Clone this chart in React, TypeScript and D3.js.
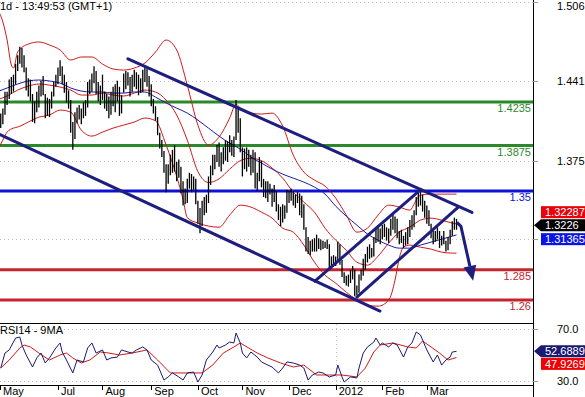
import React, { useEffect, useRef } from "react";
import * as d3 from "d3";

// daily bars, trading days 23 May 2011 .. 21 Mar 2012 (index 0..217)
const highs = [
  1.411, 1.413, 1.414, 1.418, 1.432, 1.432, 1.442, 1.444, 1.446, 1.455,
  1.462, 1.469, 1.468, 1.462, 1.452, 1.443, 1.442, 1.43, 1.424, 1.432,
  1.437, 1.441, 1.445, 1.43, 1.427, 1.426, 1.432, 1.44, 1.446, 1.452,
  1.458, 1.453, 1.446, 1.44, 1.433, 1.425, 1.407, 1.415, 1.419, 1.421,
  1.418, 1.423, 1.425, 1.44, 1.442, 1.447, 1.453, 1.449, 1.44, 1.437,
  1.446, 1.432, 1.43, 1.428, 1.432, 1.436, 1.438, 1.441, 1.436, 1.429,
  1.447, 1.449, 1.448, 1.444, 1.446, 1.45, 1.448, 1.446, 1.443, 1.45,
  1.454, 1.451, 1.445, 1.438, 1.426, 1.42, 1.411, 1.398, 1.392, 1.383,
  1.372, 1.372, 1.38, 1.384, 1.388, 1.374, 1.376, 1.37, 1.358, 1.352,
  1.36, 1.365, 1.364, 1.362, 1.36, 1.342, 1.336, 1.342, 1.345, 1.347,
  1.362, 1.371, 1.38, 1.38, 1.388, 1.39, 1.382, 1.386, 1.392, 1.391,
  1.396, 1.392, 1.395, 1.425, 1.418, 1.41, 1.386, 1.385, 1.386, 1.384,
  1.38, 1.384, 1.382, 1.365, 1.378, 1.375, 1.36, 1.358, 1.358, 1.356,
  1.352, 1.355, 1.35, 1.339, 1.337, 1.339, 1.338, 1.351, 1.35, 1.352,
  1.35, 1.347, 1.349, 1.348, 1.346, 1.339, 1.32, 1.312, 1.309, 1.31,
  1.311, 1.314, 1.311, 1.31, 1.309, 1.308, 1.31, 1.306, 1.296, 1.297,
  1.296, 1.308, 1.306, 1.293, 1.283, 1.28, 1.281, 1.285, 1.288, 1.285,
  1.272, 1.281, 1.285, 1.294, 1.298, 1.304, 1.306, 1.303, 1.312, 1.32,
  1.322, 1.319, 1.322, 1.323, 1.32, 1.319, 1.327, 1.331, 1.329, 1.327,
  1.317, 1.318, 1.313, 1.316, 1.32, 1.326, 1.33, 1.334, 1.345, 1.35,
  1.349, 1.347, 1.342, 1.338, 1.334, 1.323, 1.318, 1.317, 1.32, 1.317,
  1.313, 1.317, 1.309, 1.312, 1.318, 1.325, 1.328, 1.327,
];
const lows = [
  1.397, 1.4, 1.402, 1.405, 1.413, 1.421, 1.426, 1.43, 1.432, 1.438,
  1.449, 1.455, 1.452, 1.448, 1.433, 1.428, 1.424, 1.407, 1.406, 1.415,
  1.419, 1.428, 1.429, 1.41, 1.412, 1.411, 1.418, 1.428, 1.436, 1.438,
  1.445, 1.438, 1.431, 1.423, 1.418, 1.398, 1.384, 1.393, 1.406, 1.409,
  1.405, 1.41, 1.412, 1.419, 1.43, 1.432, 1.439, 1.43, 1.424, 1.421,
  1.425, 1.418, 1.416, 1.41, 1.413, 1.42, 1.415, 1.424, 1.412, 1.414,
  1.431, 1.434, 1.437, 1.428, 1.432, 1.436, 1.434, 1.429, 1.431, 1.432,
  1.44, 1.436, 1.428, 1.42, 1.414, 1.408, 1.396, 1.385, 1.378, 1.365,
  1.349, 1.356, 1.363, 1.365, 1.366, 1.358, 1.361, 1.348, 1.338, 1.339,
  1.34, 1.352, 1.349, 1.351, 1.339, 1.323, 1.315, 1.321, 1.33, 1.332,
  1.34, 1.355, 1.363, 1.368, 1.374, 1.37, 1.366, 1.372, 1.375, 1.374,
  1.382, 1.379, 1.378, 1.392, 1.398, 1.382, 1.362, 1.368, 1.366, 1.37,
  1.363, 1.365, 1.352, 1.35, 1.358, 1.353, 1.345, 1.344, 1.341, 1.347,
  1.337, 1.341, 1.333, 1.326, 1.321, 1.324, 1.327, 1.332, 1.34, 1.342,
  1.338, 1.336, 1.34, 1.33, 1.328, 1.318, 1.3, 1.298, 1.297, 1.3,
  1.3, 1.3, 1.302, 1.301, 1.302, 1.303, 1.302, 1.286, 1.286, 1.289,
  1.288, 1.292, 1.289, 1.279, 1.274, 1.272, 1.271, 1.274, 1.277, 1.263,
  1.264, 1.266, 1.276, 1.28, 1.285, 1.291, 1.294, 1.295, 1.296, 1.307,
  1.308, 1.306, 1.31, 1.312, 1.309, 1.307, 1.313, 1.318, 1.315, 1.311,
  1.306, 1.307, 1.303, 1.305, 1.306, 1.312, 1.318, 1.32, 1.33, 1.337,
  1.338, 1.333, 1.328, 1.323, 1.321, 1.311, 1.306, 1.308, 1.31, 1.303,
  1.305, 1.306, 1.3, 1.301, 1.306, 1.313, 1.318, 1.318,
];
const lastPrice = 1.3226;

// bollinger bands [bar index, price]
const bbUpper = [
  [0, 1.501], [3, 1.4895], [5, 1.4746], [7, 1.454], [8, 1.4515], [10, 1.4647],
  [15, 1.4713], [20, 1.473], [25, 1.4705], [30, 1.4664], [35, 1.4581], [40, 1.4606],
  [45, 1.4606], [50, 1.4548], [55, 1.4507], [60, 1.4498], [65, 1.4515], [70, 1.4556],
  [75, 1.4647], [80, 1.4746], [85, 1.4664], [90, 1.4374], [95, 1.4044], [100, 1.3879],
  [105, 1.3945], [110, 1.4102], [113, 1.4217], [115, 1.4184], [120, 1.4143], [125, 1.4135],
  [130, 1.4143], [135, 1.4036], [140, 1.3796], [145, 1.3656], [150, 1.359], [155, 1.354],
  [160, 1.3441], [165, 1.3301], [170, 1.316], [175, 1.3193], [180, 1.3301], [185, 1.3383],
  [190, 1.3367], [195, 1.3342], [198, 1.3425], [200, 1.3466], [205, 1.3474], [210, 1.3474],
  [215, 1.3474], [217, 1.3474],
];
const bbMid = [
  [0, 1.4251], [5, 1.4284], [10, 1.4333], [15, 1.4366], [20, 1.4383], [25, 1.4374],
  [30, 1.4358], [35, 1.4333], [40, 1.4292], [45, 1.4292], [50, 1.4308], [55, 1.4292],
  [60, 1.4284], [65, 1.4308], [70, 1.4333], [75, 1.4317], [80, 1.4251], [85, 1.4127],
  [90, 1.392], [95, 1.366], [100, 1.357], [105, 1.36], [110, 1.368], [115, 1.375],
  [120, 1.377], [125, 1.375], [130, 1.369], [135, 1.3606], [140, 1.3491], [145, 1.3408],
  [150, 1.3325], [155, 1.3193], [160, 1.3094], [165, 1.3011], [170, 1.2912], [175, 1.2888],
  [180, 1.2962], [185, 1.3069], [190, 1.316], [195, 1.3202], [200, 1.3259], [205, 1.3276],
  [210, 1.3259], [215, 1.3235], [217, 1.32287],
];
const bbLower = [
  [0, 1.3821], [3, 1.392], [5, 1.3986], [8, 1.4019], [10, 1.4028], [15, 1.4069],
  [20, 1.411], [25, 1.4127], [30, 1.4168], [35, 1.4151], [40, 1.4003], [45, 1.3953],
  [50, 1.3986], [55, 1.4019], [60, 1.4044], [65, 1.4069], [70, 1.4102], [75, 1.408],
  [80, 1.388], [85, 1.362], [88, 1.343], [90, 1.328], [95, 1.3235], [100, 1.321],
  [105, 1.3201], [110, 1.3301], [115, 1.3383], [120, 1.3367], [125, 1.3325], [130, 1.3276],
  [135, 1.3193], [140, 1.316], [145, 1.3053], [150, 1.2912], [155, 1.2805], [160, 1.2739],
  [165, 1.2665], [170, 1.2599], [175, 1.2557], [180, 1.2549], [185, 1.2599], [188, 1.2764],
  [190, 1.2945], [192, 1.3036], [195, 1.3053], [200, 1.3036], [205, 1.302], [210, 1.2995],
  [215, 1.2987], [217, 1.2987],
];
// slow moving average (blue)
const maSlow = [
  [0, 1.4317], [5, 1.435], [10, 1.4383], [15, 1.4408], [20, 1.4416], [25, 1.4408],
  [30, 1.4391], [35, 1.435], [40, 1.4325], [45, 1.4317], [50, 1.4317], [55, 1.4308],
  [60, 1.4308], [65, 1.4317], [70, 1.4317], [75, 1.4275], [80, 1.4226], [85, 1.4184],
  [90, 1.4143], [95, 1.4085], [100, 1.4019], [105, 1.3953], [110, 1.3895], [115, 1.3846],
  [120, 1.378], [125, 1.373], [130, 1.3681], [135, 1.3639], [140, 1.3606], [145, 1.3573],
  [150, 1.3532], [155, 1.3474], [160, 1.3375], [165, 1.3292], [170, 1.3218], [175, 1.3144],
  [180, 1.3094], [185, 1.3053], [190, 1.3028], [195, 1.3028], [200, 1.3053], [205, 1.3078],
  [210, 1.3102], [215, 1.3127], [217, 1.31365],
];

// RSI(14) and its 9MA [bar index, value]
const rsi = [
  [2, 39.8], [4, 51.4], [6, 53.8], [9, 63.0], [11, 63.8], [12, 57.6], [14, 49.9], [17, 40.6],
  [19, 47.6], [21, 51.4], [23, 43.7], [25, 47.6], [28, 55.3], [30, 59.2], [31, 52.2], [33, 46.0],
  [36, 36.0], [38, 46.0], [41, 44.5], [43, 55.3], [45, 59.2], [47, 51.4], [50, 53.8], [52, 46.0],
  [54, 47.6], [57, 48.3], [59, 53.8], [62, 52.2], [64, 51.4], [66, 53.8], [69, 56.1], [71, 53.8],
  [73, 46.0], [76, 42.1], [77, 38.3], [79, 30.5], [81, 32.9], [83, 36.0], [86, 32.9], [88, 30.5],
  [90, 36.0], [93, 36.7], [95, 29.0], [97, 34.4], [99, 46.0], [102, 52.2], [104, 57.6], [105, 55.3],
  [108, 57.6], [110, 59.9], [112, 59.2], [113, 66.9], [115, 59.2], [116, 51.4], [118, 47.6], [120, 52.2],
  [123, 48.3], [125, 44.5], [128, 42.1], [130, 40.6], [133, 36.0], [135, 39.8], [137, 44.5], [140, 43.7],
  [143, 42.1], [145, 39.8], [147, 30.5], [149, 34.4], [152, 36.7], [154, 36.0], [157, 32.9], [160, 34.4],
  [161, 42.1], [163, 32.9], [164, 29.0], [167, 32.9], [170, 32.1], [171, 39.8], [173, 51.4], [175, 56.1],
  [178, 59.9], [179, 63.0], [181, 57.6], [182, 59.2], [185, 56.1], [187, 59.2], [189, 57.6], [192, 48.3],
  [194, 56.1], [196, 59.2], [198, 67.7], [200, 65.4], [201, 61.5], [203, 53.8], [206, 44.5], [208, 49.9],
  [210, 42.1], [212, 46.0], [214, 48.3], [215, 52.2], [217, 52.6889],
];
const rsiMa = [
  [2, 39.8], [6, 46.0], [11, 55.3], [13, 57.6], [16, 56.1], [20, 51.4], [25, 46.0], [30, 49.9],
  [33, 51.4], [36, 47.6], [40, 43.7], [44, 46.0], [49, 52.2], [53, 51.4], [58, 49.9], [64, 51.4],
  [71, 53.8], [76, 46.0], [82, 36.0], [87, 36.0], [91, 36.0], [97, 36.0], [102, 42.1], [107, 51.4],
  [112, 56.1], [115, 59.2], [119, 55.3], [123, 51.4], [128, 47.6], [134, 43.7], [140, 40.6], [145, 42.1],
  [151, 34.4], [157, 34.4], [163, 34.4], [170, 32.9], [174, 39.8], [178, 52.2], [181, 57.6], [187, 59.2],
  [194, 56.1], [198, 55.3], [201, 60.7], [205, 56.1], [209, 51.4], [213, 46.0], [217, 47.9269],
];

// drawn trend lines [bar index, price]
const channels = [
  [[62, 1.4591], [224.3, 1.3323]],
  [[1.65, 1.3965], [180.9, 1.2509]],
  [[150.2, 1.2755], [200.2, 1.3513]],
  [[170, 1.2624], [217.7, 1.3365]],
];
const arrowPath = [[217.2, 1.3241], [219.1, 1.3208], [223.3, 1.2879]];

const levels = [1.4235, 1.3875, 1.35, 1.285, 1.26];
const levelLabels = ["1.4235", "1.3875", "1.35", "1.285", "1.26"];
const levelColors = ["#2a8a2a", "#2a8a2a", "#0c10d8", "#c4242c", "#c4242c"];

const priceTicks = [1.506, 1.441, 1.375, 1.31];
const priceTickLabels = ["1.506", "1.441", "1.375", ""];
const rsiTicks = [70, 30];

const monthLabels = ["May", "Jul", "Aug", "Sep", "Oct", "Nov", "Dec", "2012", "Feb", "Mar"];
const monthIdx = [1.65, 29, 50, 73, 95, 116, 138, 160, 182, 203];

const W = 585;
const H = 397;
const axisX = 533;
const FONT = "'Liberation Sans', Arial, sans-serif";

const App = () => {
  const ref = useRef(null);

  useEffect(() => {
    const svg = d3.select(ref.current);
    svg.selectAll("*").remove();

    const x = d3.scaleLinear().domain([0, 217]).range([-3.5, 456.5]);
    const y = d3.scaleLinear().domain([1.506, 1.26]).range([2, 300]);
    const ry = d3.scaleLinear().domain([70, 30]).range([329, 380.7]);

    svg.append("rect").attr("width", W).attr("height", H).attr("fill", "#fff");

    svg.append("clipPath").attr("id", "mainClip")
      .append("rect").attr("x", 0).attr("y", 0).attr("width", axisX).attr("height", 322);
    svg.append("clipPath").attr("id", "rsiClip")
      .append("rect").attr("x", 0).attr("y", 324).attr("width", axisX).attr("height", 60);

    const main = svg.append("g").attr("clip-path", "url(#mainClip)");

    // dotted grid
    main.selectAll(".grid").data(priceTicks).join("line")
      .attr("x1", 0).attr("x2", axisX)
      .attr("y1", (d) => Math.round(y(d)) + 0.5).attr("y2", (d) => Math.round(y(d)) + 0.5)
      .attr("stroke", "#bdbdbd").attr("stroke-dasharray", "1,3");

    // horizontal levels
    main.selectAll(".lvl").data(levels).join("line")
      .attr("x1", 0).attr("x2", axisX)
      .attr("y1", (d) => y(d)).attr("y2", (d) => y(d))
      .attr("stroke", (d, i) => levelColors[i]).attr("stroke-width", 3);
    main.selectAll(".lvlText").data(levels).join("text")
      .attr("x", axisX - 2).attr("y", (d) => y(d) + 10)
      .attr("text-anchor", "end").attr("font-size", 11).attr("font-family", FONT)
      .attr("fill", (d, i) => levelColors[i])
      .text((d, i) => levelLabels[i]);

    // indicators
    const line = d3.line().x((d) => x(d[0])).y((d) => y(d[1])).curve(d3.curveMonotoneX);
    [bbUpper, bbMid, bbLower].forEach((s) => {
      main.append("path").attr("d", line(s)).attr("fill", "none")
        .attr("stroke", "#d01818").attr("stroke-width", 1);
    });
    main.append("path").attr("d", line(maSlow)).attr("fill", "none")
      .attr("stroke", "#1a1aa8").attr("stroke-width", 1);

    // bars
    main.selectAll(".bar").data(highs).join("line")
      .attr("x1", (d, i) => x(i)).attr("x2", (d, i) => x(i))
      .attr("y1", (d) => y(d)).attr("y2", (d, i) => y(lows[i]))
      .attr("stroke", "#000").attr("stroke-width", 1.3);

    // channels
    main.selectAll(".chan").data(channels).join("line")
      .attr("x1", (d) => x(d[0][0])).attr("y1", (d) => y(d[0][1]))
      .attr("x2", (d) => x(d[1][0])).attr("y2", (d) => y(d[1][1]))
      .attr("stroke", "#1e1e7e").attr("stroke-width", 3).attr("stroke-linecap", "round");

    // forecast arrow
    const ap = arrowPath.map((d) => [x(d[0]), y(d[1])]);
    main.append("path").attr("d", d3.line()(ap)).attr("fill", "none")
      .attr("stroke", "#1e1e7e").attr("stroke-width", 3).attr("stroke-linejoin", "round");
    const [p1, p2] = ap.slice(-2);
    const len = Math.hypot(p2[0] - p1[0], p2[1] - p1[1]);
    const ux = (p2[0] - p1[0]) / len;
    const uy = (p2[1] - p1[1]) / len;
    const head = [
      [p2[0] - uy * 6.5, p2[1] + ux * 6.5],
      [p2[0] + uy * 6.5, p2[1] - ux * 6.5],
      [p2[0] + ux * 15, p2[1] + uy * 15],
    ];
    main.append("polygon").attr("points", head.map((p) => p.join(",")).join(" "))
      .attr("fill", "#1e1e7e");

    // title
    svg.append("text").attr("x", 0).attr("y", 10).attr("font-size", 11)
      .attr("font-family", FONT).text("1d - 13:49:53 (GMT+1)");

    // RSI panel
    const rp = svg.append("g");
    rp.selectAll(".rgrid").data(rsiTicks).join("line")
      .attr("x1", 0).attr("x2", axisX)
      .attr("y1", (d) => Math.round(ry(d)) + 0.5).attr("y2", (d) => Math.round(ry(d)) + 0.5)
      .attr("stroke", "#bdbdbd").attr("stroke-dasharray", "1,3");
    rp.append("line")
      .attr("x1", Math.round(x(monthIdx[7])) + 0.5).attr("x2", Math.round(x(monthIdx[7])) + 0.5)
      .attr("y1", 324).attr("y2", 385)
      .attr("stroke", "#bdbdbd").attr("stroke-dasharray", "1,3");
    const rline = d3.line().x((d) => x(d[0])).y((d) => ry(d[1]));
    const rg = rp.append("g").attr("clip-path", "url(#rsiClip)");
    rg.append("path").attr("d", rline(rsiMa)).attr("fill", "none")
      .attr("stroke", "#d01818").attr("stroke-width", 1);
    rg.append("path").attr("d", rline(rsi)).attr("fill", "none")
      .attr("stroke", "#1a1a70").attr("stroke-width", 1);
    rp.append("text").attr("x", 0).attr("y", 334).attr("font-size", 11)
      .attr("font-family", FONT).text("RSI14 - 9MA");

    // frame lines
    svg.append("line").attr("x1", 0).attr("x2", axisX).attr("y1", 323.5).attr("y2", 323.5)
      .attr("stroke", "#000");
    svg.append("line").attr("x1", 0).attr("x2", axisX).attr("y1", 385.5).attr("y2", 385.5)
      .attr("stroke", "#000");
    svg.append("line").attr("x1", axisX + 0.5).attr("x2", axisX + 0.5).attr("y1", 0).attr("y2", H)
      .attr("stroke", "#000");

    // right axis ticks
    svg.selectAll(".ptick").data(priceTicks).join("line")
      .attr("x1", axisX).attr("x2", axisX + 5)
      .attr("y1", (d) => Math.round(y(d)) + 0.5).attr("y2", (d) => Math.round(y(d)) + 0.5)
      .attr("stroke", "#999");
    svg.selectAll(".plab").data(priceTicks).join("text")
      .attr("x", 557).attr("y", (d) => Math.max(y(d) + 4, 10))
      .attr("font-size", 11).attr("font-family", FONT)
      .text((d, i) => priceTickLabels[i]);
    svg.selectAll(".rtick").data(rsiTicks).join("line")
      .attr("x1", axisX).attr("x2", axisX + 5)
      .attr("y1", (d) => Math.round(ry(d)) + 0.5).attr("y2", (d) => Math.round(ry(d)) + 0.5)
      .attr("stroke", "#999");
    svg.selectAll(".rlab").data(rsiTicks).join("text")
      .attr("x", 557).attr("y", (d) => ry(d) + 4)
      .attr("font-size", 11).attr("font-family", FONT)
      .text((d) => d3.format(".1f")(d));

    // month axis
    svg.selectAll(".mtick").data(monthIdx).join("line")
      .attr("x1", (d) => Math.round(x(d)) + 0.5).attr("x2", (d) => Math.round(x(d)) + 0.5)
      .attr("y1", 385).attr("y2", 390).attr("stroke", "#000");
    svg.selectAll(".mlab").data(monthIdx).join("text")
      .attr("x", (d) => x(d) + 3).attr("y", 395)
      .attr("font-size", 11).attr("font-family", FONT)
      .text((d, i) => monthLabels[i]);

    // value tags
    const tag = (cy, label, fill, pointer) => {
      const g = svg.append("g");
      if (pointer) {
        g.append("polygon")
          .attr("points", `${axisX + 1},${cy} ${axisX + 8},${cy - 6} ${W},${cy - 6} ${W},${cy + 6} ${axisX + 8},${cy + 6}`)
          .attr("fill", fill);
      } else {
        g.append("rect").attr("x", 541).attr("y", cy - 6).attr("width", W - 541).attr("height", 12)
          .attr("fill", fill);
      }
      g.append("text").attr("x", 545).attr("y", cy + 4).attr("font-size", 11)
        .attr("font-family", FONT).attr("fill", "#fff").text(label);
    };
    const cy = y(lastPrice) + 1;
    tag(cy - 13, "1.32287", "#e8000a", false);
    tag(cy + 14, "1.31365", "#0a14e6", false);
    tag(cy, "1.3226", "#000", true);
    const rcy = ry(rsi[rsi.length - 1][1]);
    tag(rcy, "52.6889", "#1a1a70", true);
    tag(rcy + 12.5, "47.9269", "#f00000", false);
  }, []);

  return (
    <svg
      ref={ref}
      width={W}
      height={H}
      style={{ position: "absolute", left: 0, top: 0, display: "block" }}
    />
  );
};

export default App;
